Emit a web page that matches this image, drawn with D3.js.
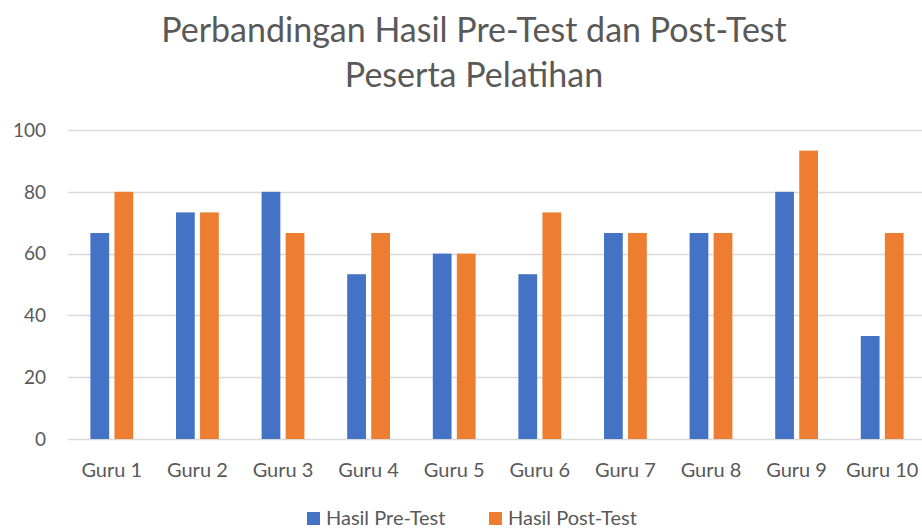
<!DOCTYPE html>
<html>
<head>
<meta charset="utf-8">
<script src="https://cdn.jsdelivr.net/npm/d3@7"></script>
<style>
  html, body { margin: 0; padding: 0; background: #fff; overflow: hidden; }
  svg { display: block; font-family: Lato, "Open Sans", sans-serif; }
</style>
</head>
<body>
<script>
const categories = ["Guru 1", "Guru 2", "Guru 3", "Guru 4", "Guru 5", "Guru 6", "Guru 7", "Guru 8", "Guru 9", "Guru 10"];
const preTest = [66.67, 73.33, 80, 53.33, 60, 53.33, 66.67, 66.67, 80, 33.33];
const postTest = [80, 73.33, 66.67, 66.67, 60, 73.33, 66.67, 66.67, 93.33, 66.67];
const seriesNames = ["Hasil Pre-Test", "Hasil Post-Test"];
const colors = ["#4472C4", "#ED7D31"];
const yTicks = [0, 20, 40, 60, 80, 100];

const width = 922;
const height = 530;

const svg = d3.select("body").append("svg")
  .attr("width", width)
  .attr("height", height);

// plot area runs a little past the right edge, like the cropped original
const x0 = d3.scaleBand()
  .domain(categories)
  .range([69, 925])
  .paddingInner(0.5)
  .paddingOuter(0.25);

const x1 = d3.scaleBand()
  .domain(seriesNames)
  .range([0, x0.bandwidth()])
  .paddingInner(0.22);

const y = d3.scaleLinear()
  .domain([0, 100])
  .range([439, 130]);

// gridlines
svg.append("g")
  .selectAll("line")
  .data(yTicks)
  .join("line")
  .attr("x1", 68)
  .attr("x2", width)
  .attr("y1", d => Math.round(y(d)) + 0.5)
  .attr("y2", d => Math.round(y(d)) + 0.5)
  .attr("stroke", "#D9D9D9")
  .attr("stroke-width", 1.3);

// y labels
svg.append("g")
  .selectAll("text")
  .data(yTicks)
  .join("text")
  .attr("x", 46)
  .attr("y", d => y(d))
  .attr("dy", "0.36em")
  .attr("text-anchor", "end")
  .attr("font-size", 19)
  .attr("fill", "#595959")
  .text(d => d);

// bars
const rows = categories.map((c, i) => ({ cat: c, vals: [preTest[i], postTest[i]] }));

const group = svg.append("g")
  .selectAll("g")
  .data(rows)
  .join("g")
  .attr("transform", d => `translate(${x0(d.cat)},0)`);

group.selectAll("rect")
  .data(d => d.vals.map((v, k) => ({ key: seriesNames[k], v: v, k: k })))
  .join("rect")
  .attr("x", d => x1(d.key))
  .attr("y", d => y(d.v))
  .attr("width", x1.bandwidth())
  .attr("height", d => y(0) - y(d.v))
  .attr("fill", d => colors[d.k]);

// x labels
svg.append("g")
  .selectAll("text")
  .data(categories)
  .join("text")
  .attr("x", d => x0(d) + x0.bandwidth() / 2)
  .attr("y", 477)
  .attr("text-anchor", "middle")
  .attr("font-size", 20)
  .attr("fill", "#595959")
  .text(d => d);

// title
const titleLines = ["Perbandingan Hasil Pre-Test dan Post-Test", "Peserta Pelatihan"];
svg.append("g")
  .selectAll("text")
  .data(titleLines)
  .join("text")
  .attr("x", 474)
  .attr("y", (d, i) => 42 + i * 45)
  .attr("text-anchor", "middle")
  .attr("font-size", 34)
  .attr("fill", "#595959")
  .text(d => d);

// legend (kept just inside the bottom edge)
const legendX = [307, 489];
const legend = svg.append("g")
  .selectAll("g")
  .data(seriesNames)
  .join("g")
  .attr("transform", (d, i) => `translate(${legendX[i]},512)`);

legend.append("rect")
  .attr("width", 13)
  .attr("height", 13)
  .attr("fill", (d, i) => colors[i]);

legend.append("text")
  .attr("x", 19)
  .attr("y", 13)
  .attr("font-size", 20)
  .attr("fill", "#595959")
  .text(d => d);
</script>
</body>
</html>
